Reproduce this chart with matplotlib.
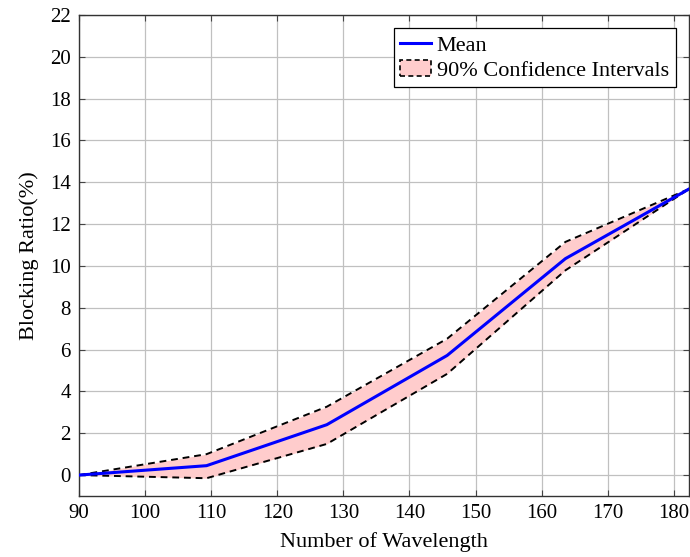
import matplotlib
matplotlib.use("Agg")
import matplotlib.pyplot as plt
from matplotlib.patches import Patch
from matplotlib.lines import Line2D

plt.rcParams['font.family'] = ['Liberation Serif', 'DejaVu Serif']
plt.rcParams['mathtext.fontset'] = 'stix'

wavelengths = [90, 109.3, 127.5, 145.7, 163.6, 182.3]
mean_ratio = [0.0, 0.45, 2.41, 5.72, 10.35, 13.68]
upper_ci = [0.0, 1.0, 3.27, 6.52, 11.15, 13.68]
lower_ci = [0.0, -0.15, 1.49, 4.84, 9.79, 13.68]

x_ticks = [90, 100, 110, 120, 130, 140, 150, 160, 170, 180]
y_ticks = list(range(0, 23, 2))

fig = plt.figure(figsize=(6.9, 5.57), dpi=100)
ax = fig.add_axes([79/690, 1 - 496/557, 610/690, 481/557])

fill_color = '#ffcccc'
ax.fill_between(wavelengths, lower_ci, upper_ci, color=fill_color, lw=0, zorder=2)
ax.plot(wavelengths, upper_ci, color='black', ls=(0, (3.5, 2.5)), lw=1.4, zorder=3)
ax.plot(wavelengths, lower_ci, color='black', ls=(0, (3.5, 2.5)), lw=1.4, zorder=3)
ax.plot(wavelengths, mean_ratio, color='blue', lw=2.2, zorder=4)

ax.set_xlim(90, 182.3)
ax.set_ylim(-1, 22)
ax.set_xticks(x_ticks)
ax.set_yticks(y_ticks)
ax.grid(True, color='#c0c0c0', lw=0.9, zorder=0)
ax.set_axisbelow(True)
ax.tick_params(direction='in', top=True, right=True, labelsize=15, length=4,
               color='#444444', pad=6)
for s in ax.spines.values():
    s.set_color('#333333')
    s.set_linewidth(1.0)

ax.set_xlabel('Number of Wavelength', fontsize=16, labelpad=6)
ax.set_ylabel('Blocking Ratio(%)', fontsize=16, labelpad=8)

handles = [
    Line2D([], [], color='blue', lw=2.2),
    Patch(facecolor=fill_color, edgecolor='black', ls=(0, (3, 2)), lw=1.2),
]
leg = ax.legend(handles, ['Mean', '90% Confidence Intervals'], loc='upper right',
                fontsize=16, frameon=True, fancybox=False, framealpha=1,
                edgecolor='black', borderpad=0.3, labelspacing=0.2,
                handlelength=1.4, handletextpad=0.25, borderaxespad=0.6)
leg.get_frame().set_linewidth(0.9)

fig.savefig('out.png', dpi=100)
